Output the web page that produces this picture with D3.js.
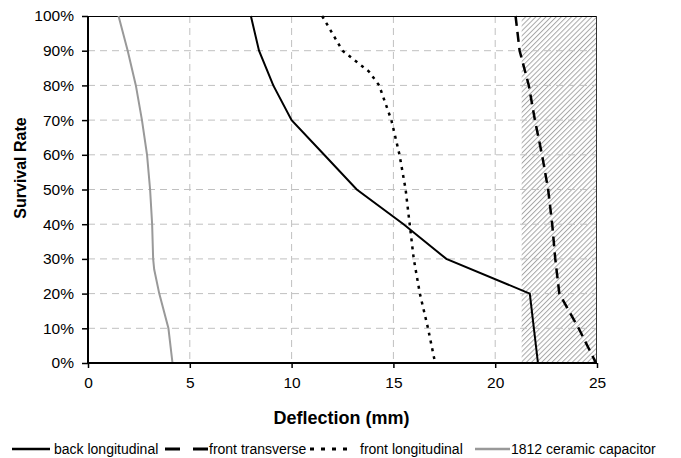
<!DOCTYPE html>
<html>
<head>
<meta charset="utf-8">
<script src="https://cdn.jsdelivr.net/npm/d3@7"></script>
<style>
  body { margin: 0; background: #fff; }
  text { font-family: Arial, "Liberation Sans", sans-serif; }
</style>
</head>
<body>
<div id="chart"></div>
<script>
// survival levels (%) and deflection (mm) per series
const survival = [100, 90, 80, 70, 60, 50, 40, 30, 20, 10, 0];
const backLong = [8.0, 8.4, 9.1, 10.0, 11.6, 13.2, 15.5, 17.6, 21.7, 21.9, 22.1];
const frontTrans = [21.0, 21.2, 21.65, 21.95, 22.3, 22.6, 22.8, 22.95, 23.15, 24.1, 24.95];
const frontLongSurv = [100, 90, 84, 80, 70, 60, 50, 40, 30, 20, 10, 0];
const frontLong = [11.5, 12.5, 13.8, 14.3, 14.9, 15.3, 15.6, 15.8, 16.0, 16.3, 16.7, 17.05];
const capSurv = [100, 90, 80, 70, 60, 50, 40, 30, 27, 20, 10, 0];
const capacitor = [1.5, 1.95, 2.35, 2.65, 2.9, 3.05, 3.15, 3.2, 3.25, 3.5, 3.95, 4.15];
const hatchFrom = 21.3, hatchTo = 25;
const xTicks = [0, 5, 10, 15, 20, 25];
const yTicks = [0, 10, 20, 30, 40, 50, 60, 70, 80, 90, 100];

const W = 681, H = 458;
const margin = { top: 16, right: 84, bottom: 95, left: 88 };
const width = W - margin.left - margin.right;
const height = H - margin.top - margin.bottom;

const svg = d3.select('#chart').append('svg')
  .attr('width', W).attr('height', H);

const defs = svg.append('defs');
const pat = defs.append('pattern')
  .attr('id', 'hatch').attr('patternUnits', 'userSpaceOnUse')
  .attr('width', 3.6).attr('height', 3.6)
  .attr('patternTransform', 'rotate(45)');
pat.append('line')
  .attr('x1', 0).attr('y1', 0).attr('x2', 0).attr('y2', 3.6)
  .attr('stroke', '#a6a6a6').attr('stroke-width', 2);

const g = svg.append('g').attr('transform', `translate(${margin.left},${margin.top})`);

const x = d3.scaleLinear().domain([0, 25]).range([0, width]);
const y = d3.scaleLinear().domain([0, 100]).range([height, 0]);

// hatched region
g.append('rect')
  .attr('x', x(hatchFrom)).attr('y', 0)
  .attr('width', x(hatchTo) - x(hatchFrom)).attr('height', height)
  .attr('fill', 'url(#hatch)');

// grid
g.append('g').selectAll('line').data(xTicks.slice(1, -1)).join('line')
  .attr('x1', d => x(d)).attr('x2', d => x(d))
  .attr('y1', 0).attr('y2', height)
  .attr('stroke', '#c0c0c0').attr('stroke-dasharray', '7,5');
g.append('g').selectAll('line').data(yTicks.slice(1, -1)).join('line')
  .attr('x1', 0).attr('x2', width)
  .attr('y1', d => y(d)).attr('y2', d => y(d))
  .attr('stroke', '#c0c0c0').attr('stroke-dasharray', '7,5');

// frame top/right
g.append('line').attr('x1', 0).attr('x2', width).attr('y1', 0.5).attr('y2', 0.5)
  .attr('stroke', '#000').attr('stroke-width', 1);
g.append('line').attr('x1', width - 0.5).attr('x2', width - 0.5).attr('y1', 0).attr('y2', height)
  .attr('stroke', '#333').attr('stroke-width', 1);

// series
const line = d3.line().x(d => x(d[0])).y(d => y(d[1]));
const series = [
  { name: 'back longitudinal', xs: backLong, ys: survival, color: '#000', w: 2, dash: null, legendDash: null },
  { name: 'front transverse', xs: frontTrans, ys: survival, color: '#000', w: 2.5, dash: '10,6', legendDash: '15,13' },
  { name: 'front longitudinal', xs: frontLong, ys: frontLongSurv, color: '#000', w: 2.5, dash: '3,5', legendDash: '4,7' },
  { name: '1812 ceramic capacitor', xs: capacitor, ys: capSurv, color: '#999', w: 2, dash: null, legendDash: null }
];
series.forEach(s => {
  g.append('path')
    .datum(s.xs.map((v, i) => [v, s.ys[i]]))
    .attr('d', line)
    .attr('fill', 'none')
    .attr('stroke', s.color)
    .attr('stroke-width', s.w)
    .attr('stroke-dasharray', s.dash);
});

// axes
const xAxis = g.append('g').attr('transform', `translate(0,${height})`)
  .call(d3.axisBottom(x).tickValues(xTicks).tickSize(5).tickPadding(9));
const yAxis = g.append('g')
  .call(d3.axisLeft(y).tickValues(yTicks).tickSize(6).tickPadding(8).tickFormat(d => d + '%'));
[xAxis, yAxis].forEach(a => {
  a.select('.domain').attr('stroke', '#000').attr('stroke-width', 2);
  a.selectAll('.tick line').attr('stroke', '#000').attr('stroke-width', 1.5);
  a.selectAll('text').attr('font-size', 15.5).attr('fill', '#000')
    .attr('font-family', 'Arial, "Liberation Sans", sans-serif');
});
xAxis.select('.domain').attr('d', `M0,0H${width}`);
yAxis.select('.domain').attr('d', `M0,0V${height}`);

// titles
svg.append('text')
  .attr('x', margin.left + width / 2 - 1).attr('y', 424)
  .attr('text-anchor', 'middle').attr('font-size', 18).attr('font-weight', 'bold')
  .text('Deflection (mm)');
svg.append('text')
  .attr('transform', 'translate(26,168) rotate(-90)')
  .attr('text-anchor', 'middle').attr('font-size', 16).attr('font-weight', 'bold')
  .text('Survival Rate');

// legend
const legendPos = [
  { x1: 12, x2: 50, tx: 54 },
  { x1: 165, x2: 208, tx: 209 },
  { x1: 310, x2: 350, tx: 360 },
  { x1: 475, x2: 510, tx: 511 }
];
const legend = svg.append('g').attr('transform', 'translate(0,449)');
series.forEach((s, i) => {
  const p = legendPos[i];
  legend.append('line')
    .attr('x1', p.x1).attr('x2', p.x2).attr('y1', 0).attr('y2', 0)
    .attr('stroke', s.color).attr('stroke-width', s.w + 0.5)
    .attr('stroke-dasharray', s.legendDash);
  legend.append('text')
    .attr('x', p.tx).attr('y', 5)
    .attr('font-size', 14).attr('fill', '#000')
    .text(s.name);
});
</script>
</body>
</html>
